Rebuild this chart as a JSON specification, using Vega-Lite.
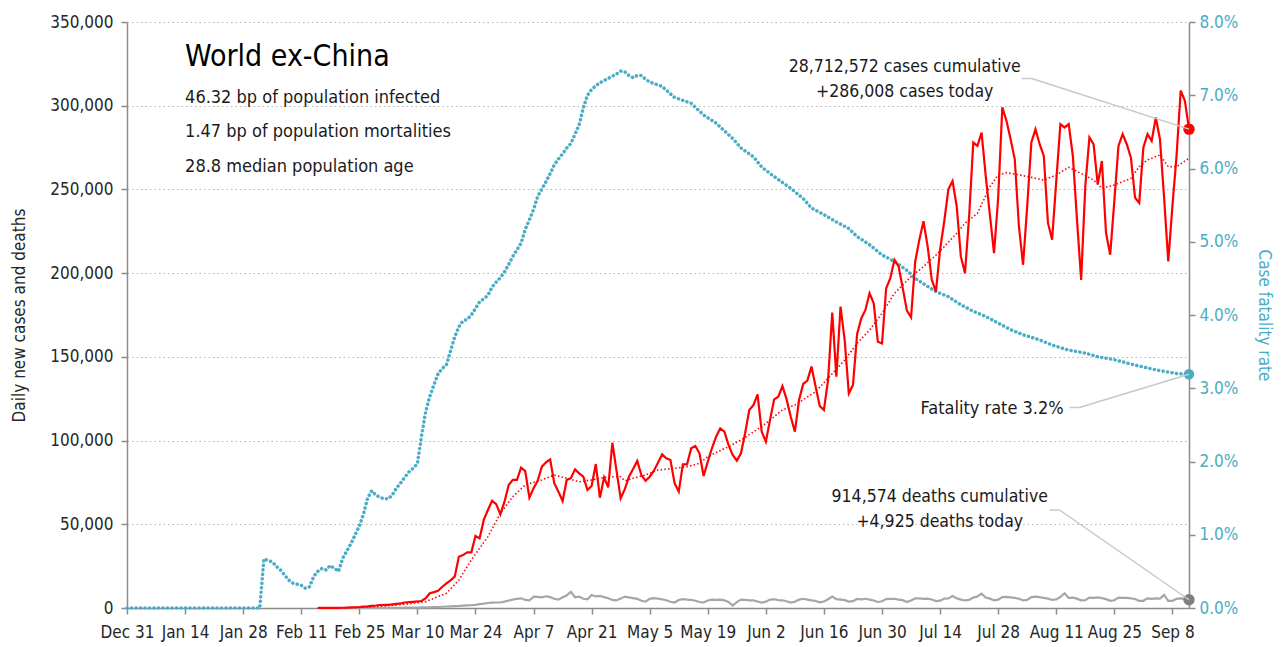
{
"$schema": "https://vega.github.io/schema/vega-lite/v6.json",
"width": 1062, "height": 586,
"autosize": {"type": "none"},
"padding": {"left": 127, "top": 22, "right": 94, "bottom": 39},
"background": "white",
"config": {
 "font": "DejaVu Sans Condensed, Liberation Sans, sans-serif",
 "view": {"stroke": null},
 "axis": {"labelFont": "DejaVu Sans Condensed, Liberation Sans, sans-serif", "titleFont": "DejaVu Sans Condensed, Liberation Sans, sans-serif", "labelFontSize": 17, "titleFontSize": 17, "titleFontWeight": "normal", "labelColor": "#262626", "titleColor": "#262626", "domainColor": "#8c8c8c", "tickColor": "#8c8c8c", "domainWidth": 1.5, "tickWidth": 1.5},
 "text": {"font": "DejaVu Sans Condensed, Liberation Sans, sans-serif"}
},
"datasets": {
 "one": [{}],
 "daily": [
{"date":"2020-02-15","cases":50,"deaths":3},{"date":"2020-02-16","cases":50,"deaths":2},{"date":"2020-02-17","cases":60,"deaths":3},{"date":"2020-02-18","cases":70,"deaths":4},{"date":"2020-02-19","cases":80,"deaths":5},{"date":"2020-02-20","cases":100,"deaths":6},{"date":"2020-02-21","cases":150,"deaths":8},{"date":"2020-02-22","cases":250,"deaths":10},{"date":"2020-02-23","cases":350,"deaths":15},{"date":"2020-02-24","cases":450,"deaths":20},{"date":"2020-02-25","cases":600,"deaths":25},{"date":"2020-02-26","cases":850,"deaths":30},{"date":"2020-02-27","cases":1000,"deaths":40},{"date":"2020-02-28","cases":1300,"deaths":45},{"date":"2020-02-29","cases":1500,"deaths":50},
{"date":"2020-03-01","cases":1800,"deaths":60},{"date":"2020-03-02","cases":1900,"deaths":70},{"date":"2020-03-03","cases":1900,"deaths":80},{"date":"2020-03-04","cases":2200,"deaths":100},{"date":"2020-03-05","cases":2500,"deaths":120},{"date":"2020-03-06","cases":2800,"deaths":150},{"date":"2020-03-07","cases":3300,"deaths":180},{"date":"2020-03-08","cases":3500,"deaths":210},{"date":"2020-03-09","cases":3700,"deaths":240},{"date":"2020-03-10","cases":3900,"deaths":270},{"date":"2020-03-11","cases":4200,"deaths":330},{"date":"2020-03-12","cases":5800,"deaths":400},{"date":"2020-03-13","cases":8800,"deaths":450},{"date":"2020-03-14","cases":9500,"deaths":520},{"date":"2020-03-15","cases":10300,"deaths":600},{"date":"2020-03-16","cases":12700,"deaths":750},{"date":"2020-03-17","cases":14700,"deaths":900},{"date":"2020-03-18","cases":16500,"deaths":1000},{"date":"2020-03-19","cases":18700,"deaths":1100},{"date":"2020-03-20","cases":30600,"deaths":1200},{"date":"2020-03-21","cases":31600,"deaths":1400},{"date":"2020-03-22","cases":33200,"deaths":1600},{"date":"2020-03-23","cases":33200,"deaths":1700},{"date":"2020-03-24","cases":43000,"deaths":1900},{"date":"2020-03-25","cases":41600,"deaths":2300},{"date":"2020-03-26","cases":52600,"deaths":2600},{"date":"2020-03-27","cases":58500,"deaths":3000},{"date":"2020-03-28","cases":64000,"deaths":3200},{"date":"2020-03-29","cases":62000,"deaths":3300},{"date":"2020-03-30","cases":56000,"deaths":3300},{"date":"2020-03-31","cases":63500,"deaths":3800},
{"date":"2020-04-01","cases":73500,"deaths":4500},{"date":"2020-04-02","cases":76500,"deaths":5000},{"date":"2020-04-03","cases":76500,"deaths":5500},{"date":"2020-04-04","cases":83800,"deaths":5800},{"date":"2020-04-05","cases":81800,"deaths":4800},{"date":"2020-04-06","cases":65900,"deaths":4500},{"date":"2020-04-07","cases":71500,"deaths":6800},{"date":"2020-04-08","cases":76000,"deaths":6600},{"date":"2020-04-09","cases":84400,"deaths":6400},{"date":"2020-04-10","cases":87000,"deaths":7000},{"date":"2020-04-11","cases":88800,"deaths":6500},{"date":"2020-04-12","cases":74500,"deaths":5500},{"date":"2020-04-13","cases":69500,"deaths":5000},{"date":"2020-04-14","cases":63900,"deaths":6400},{"date":"2020-04-15","cases":76500,"deaths":7500},{"date":"2020-04-16","cases":77500,"deaths":9700},{"date":"2020-04-17","cases":82800,"deaths":6400},{"date":"2020-04-18","cases":80400,"deaths":6800},{"date":"2020-04-19","cases":78400,"deaths":5500},{"date":"2020-04-20","cases":70500,"deaths":5200},{"date":"2020-04-21","cases":72900,"deaths":7800},{"date":"2020-04-22","cases":86000,"deaths":6900},{"date":"2020-04-23","cases":65900,"deaths":7200},{"date":"2020-04-24","cases":78000,"deaths":6500},{"date":"2020-04-25","cases":72000,"deaths":5800},{"date":"2020-04-26","cases":98700,"deaths":4800},{"date":"2020-04-27","cases":82000,"deaths":4500},{"date":"2020-04-28","cases":65500,"deaths":5600},{"date":"2020-04-29","cases":71000,"deaths":6800},{"date":"2020-04-30","cases":78400,"deaths":6300},
{"date":"2020-05-01","cases":83000,"deaths":5900},{"date":"2020-05-02","cases":87800,"deaths":5500},{"date":"2020-05-03","cases":79400,"deaths":4300},{"date":"2020-05-04","cases":76000,"deaths":3800},{"date":"2020-05-05","cases":78400,"deaths":5500},{"date":"2020-05-06","cases":82000,"deaths":5900},{"date":"2020-05-07","cases":86800,"deaths":5600},{"date":"2020-05-08","cases":91800,"deaths":5200},{"date":"2020-05-09","cases":89400,"deaths":4600},{"date":"2020-05-10","cases":88400,"deaths":3700},{"date":"2020-05-11","cases":74500,"deaths":3300},{"date":"2020-05-12","cases":69500,"deaths":4800},{"date":"2020-05-13","cases":85800,"deaths":5300},{"date":"2020-05-14","cases":85800,"deaths":5000},{"date":"2020-05-15","cases":95400,"deaths":4900},{"date":"2020-05-16","cases":96800,"deaths":4300},{"date":"2020-05-17","cases":92400,"deaths":3600},{"date":"2020-05-18","cases":78800,"deaths":3300},{"date":"2020-05-19","cases":87400,"deaths":4500},{"date":"2020-05-20","cases":95400,"deaths":5000},{"date":"2020-05-21","cases":102300,"deaths":4800},{"date":"2020-05-22","cases":107300,"deaths":5000},{"date":"2020-05-23","cases":105300,"deaths":4600},{"date":"2020-05-24","cases":97400,"deaths":3600},{"date":"2020-05-25","cases":91400,"deaths":1500},{"date":"2020-05-26","cases":88000,"deaths":3500},{"date":"2020-05-27","cases":92400,"deaths":5000},{"date":"2020-05-28","cases":104400,"deaths":4800},{"date":"2020-05-29","cases":118300,"deaths":4600},{"date":"2020-05-30","cases":121200,"deaths":4500},{"date":"2020-05-31","cases":127600,"deaths":3900},
{"date":"2020-06-01","cases":105300,"deaths":3200},{"date":"2020-06-02","cases":99300,"deaths":3800},{"date":"2020-06-03","cases":112300,"deaths":5000},{"date":"2020-06-04","cases":124600,"deaths":5200},{"date":"2020-06-05","cases":126200,"deaths":4700},{"date":"2020-06-06","cases":132600,"deaths":4600},{"date":"2020-06-07","cases":124600,"deaths":4000},{"date":"2020-06-08","cases":114200,"deaths":3200},{"date":"2020-06-09","cases":105300,"deaths":3700},{"date":"2020-06-10","cases":124200,"deaths":5000},{"date":"2020-06-11","cases":133800,"deaths":5500},{"date":"2020-06-12","cases":135800,"deaths":5000},{"date":"2020-06-13","cases":144200,"deaths":4600},{"date":"2020-06-14","cases":132200,"deaths":4200},{"date":"2020-06-15","cases":120600,"deaths":3400},{"date":"2020-06-16","cases":118300,"deaths":3900},{"date":"2020-06-17","cases":136200,"deaths":5200},{"date":"2020-06-18","cases":176400,"deaths":6800},{"date":"2020-06-19","cases":138200,"deaths":5300},{"date":"2020-06-20","cases":180000,"deaths":5000},{"date":"2020-06-21","cases":160000,"deaths":4700},{"date":"2020-06-22","cases":128200,"deaths":3800},{"date":"2020-06-23","cases":133200,"deaths":4100},{"date":"2020-06-24","cases":163700,"deaths":5400},{"date":"2020-06-25","cases":173000,"deaths":5200},{"date":"2020-06-26","cases":178000,"deaths":5500},{"date":"2020-06-27","cases":188000,"deaths":5000},{"date":"2020-06-28","cases":182000,"deaths":4500},{"date":"2020-06-29","cases":159000,"deaths":3600},{"date":"2020-06-30","cases":158000,"deaths":4000},
{"date":"2020-07-01","cases":191000,"deaths":5300},{"date":"2020-07-02","cases":197000,"deaths":5500},{"date":"2020-07-03","cases":208000,"deaths":5500},{"date":"2020-07-04","cases":204000,"deaths":5000},{"date":"2020-07-05","cases":191000,"deaths":4700},{"date":"2020-07-06","cases":177600,"deaths":3600},{"date":"2020-07-07","cases":173600,"deaths":4500},{"date":"2020-07-08","cases":206800,"deaths":5800},{"date":"2020-07-09","cases":220000,"deaths":5700},{"date":"2020-07-10","cases":231000,"deaths":5400},{"date":"2020-07-11","cases":216000,"deaths":5600},{"date":"2020-07-12","cases":196000,"deaths":5100},{"date":"2020-07-13","cases":189000,"deaths":4100},{"date":"2020-07-14","cases":214000,"deaths":4400},{"date":"2020-07-15","cases":231000,"deaths":5600},{"date":"2020-07-16","cases":250000,"deaths":5700},{"date":"2020-07-17","cases":255000,"deaths":7200},{"date":"2020-07-18","cases":240000,"deaths":5800},{"date":"2020-07-19","cases":210000,"deaths":5000},{"date":"2020-07-20","cases":200000,"deaths":4500},{"date":"2020-07-21","cases":234000,"deaths":4800},{"date":"2020-07-22","cases":278000,"deaths":6200},{"date":"2020-07-23","cases":276000,"deaths":6900},{"date":"2020-07-24","cases":284000,"deaths":8600},{"date":"2020-07-25","cases":258000,"deaths":6300},{"date":"2020-07-26","cases":235000,"deaths":5600},{"date":"2020-07-27","cases":212000,"deaths":4600},{"date":"2020-07-28","cases":245000,"deaths":5000},{"date":"2020-07-29","cases":299000,"deaths":6500},{"date":"2020-07-30","cases":291000,"deaths":6600},{"date":"2020-07-31","cases":280000,"deaths":6300},
{"date":"2020-08-01","cases":268000,"deaths":6000},{"date":"2020-08-02","cases":228000,"deaths":5500},{"date":"2020-08-03","cases":205000,"deaths":4600},{"date":"2020-08-04","cases":240000,"deaths":4800},{"date":"2020-08-05","cases":278000,"deaths":6500},{"date":"2020-08-06","cases":286000,"deaths":6800},{"date":"2020-08-07","cases":277000,"deaths":6500},{"date":"2020-08-08","cases":270000,"deaths":6000},{"date":"2020-08-09","cases":230000,"deaths":5600},{"date":"2020-08-10","cases":220000,"deaths":4800},{"date":"2020-08-11","cases":255000,"deaths":5100},{"date":"2020-08-12","cases":289000,"deaths":6600},{"date":"2020-08-13","cases":287000,"deaths":8800},{"date":"2020-08-14","cases":289000,"deaths":6000},{"date":"2020-08-15","cases":270000,"deaths":6200},{"date":"2020-08-16","cases":232000,"deaths":5600},{"date":"2020-08-17","cases":196000,"deaths":4500},{"date":"2020-08-18","cases":252000,"deaths":4700},{"date":"2020-08-19","cases":281000,"deaths":6200},{"date":"2020-08-20","cases":277000,"deaths":6000},{"date":"2020-08-21","cases":253000,"deaths":6300},{"date":"2020-08-22","cases":267000,"deaths":5900},{"date":"2020-08-23","cases":224000,"deaths":5300},{"date":"2020-08-24","cases":211000,"deaths":4300},{"date":"2020-08-25","cases":243000,"deaths":4600},{"date":"2020-08-26","cases":276000,"deaths":6200},{"date":"2020-08-27","cases":283000,"deaths":6000},{"date":"2020-08-28","cases":277000,"deaths":6000},{"date":"2020-08-29","cases":269000,"deaths":5800},{"date":"2020-08-30","cases":245000,"deaths":5400},{"date":"2020-08-31","cases":242000,"deaths":4200},
{"date":"2020-09-01","cases":275000,"deaths":4300},{"date":"2020-09-02","cases":283000,"deaths":5800},{"date":"2020-09-03","cases":279000,"deaths":5500},{"date":"2020-09-04","cases":293000,"deaths":5700},{"date":"2020-09-05","cases":280000,"deaths":5600},{"date":"2020-09-06","cases":245000,"deaths":7800},{"date":"2020-09-07","cases":207000,"deaths":4200},{"date":"2020-09-08","cases":240000,"deaths":4300},{"date":"2020-09-09","cases":270000,"deaths":5500},{"date":"2020-09-10","cases":309000,"deaths":5800},{"date":"2020-09-11","cases":303000,"deaths":5500},{"date":"2020-09-12","cases":286008,"deaths":4925}
 ],
 "avg": [
{"date":"2020-02-15","avg":50},{"date":"2020-02-24","avg":200},{"date":"2020-02-29","avg":800},{"date":"2020-03-06","avg":2000},{"date":"2020-03-09","avg":2800},{"date":"2020-03-12","avg":3800},{"date":"2020-03-17","avg":8800},{"date":"2020-03-20","avg":16700},{"date":"2020-03-23","avg":28700},{"date":"2020-03-27","avg":42600},{"date":"2020-03-30","avg":56500},{"date":"2020-04-02","avg":66500},{"date":"2020-04-05","avg":73500},{"date":"2020-04-09","avg":76500},{"date":"2020-04-12","avg":79400},{"date":"2020-04-15","avg":77500},{"date":"2020-04-18","avg":75400},{"date":"2020-04-21","avg":76500},{"date":"2020-04-25","avg":78400},{"date":"2020-04-28","avg":78400},{"date":"2020-04-29","avg":76000},{"date":"2020-05-01","avg":77500},{"date":"2020-05-04","avg":79400},{"date":"2020-05-07","avg":82400},{"date":"2020-05-11","avg":83400},{"date":"2020-05-14","avg":84400},{"date":"2020-05-17","avg":86400},{"date":"2020-05-19","avg":90400},{"date":"2020-05-24","avg":96400},{"date":"2020-05-27","avg":100400},{"date":"2020-06-01","avg":108300},{"date":"2020-06-06","avg":118300},{"date":"2020-06-09","avg":121200},{"date":"2020-06-14","avg":129200},{"date":"2020-06-17","avg":137200},{"date":"2020-06-21","avg":148100},{"date":"2020-06-24","avg":158100},{"date":"2020-06-27","avg":166000},{"date":"2020-06-30","avg":176000},{"date":"2020-07-03","avg":188000},{"date":"2020-07-07","avg":197900},{"date":"2020-07-10","avg":203900},{"date":"2020-07-13","avg":210800},{"date":"2020-07-15","avg":215800},{"date":"2020-07-18","avg":223800},{"date":"2020-07-20","avg":229800},{"date":"2020-07-23","avg":235700},{"date":"2020-07-26","avg":251600},{"date":"2020-07-28","avg":258600},{"date":"2020-07-30","avg":260000},{"date":"2020-08-01","avg":259200},{"date":"2020-08-05","avg":257200},{"date":"2020-08-08","avg":255600},{"date":"2020-08-11","avg":258600},{"date":"2020-08-14","avg":263200},{"date":"2020-08-17","avg":259600},{"date":"2020-08-20","avg":255600},{"date":"2020-08-22","avg":250700},{"date":"2020-08-25","avg":252600},{"date":"2020-08-29","avg":256600},{"date":"2020-08-31","avg":263600},{"date":"2020-09-02","avg":267600},{"date":"2020-09-05","avg":270600},{"date":"2020-09-07","avg":263600},{"date":"2020-09-09","avg":263600},{"date":"2020-09-12","avg":268600}
 ],
 "cfr": [
{"date":"2019-12-31","cfr":0},{"date":"2020-02-01","cfr":0},{"date":"2020-02-02","cfr":0.0067},{"date":"2020-02-04","cfr":0.0063},{"date":"2020-02-05","cfr":0.0057},{"date":"2020-02-06","cfr":0.0052},{"date":"2020-02-07","cfr":0.0045},{"date":"2020-02-08","cfr":0.0038},{"date":"2020-02-09","cfr":0.0034},{"date":"2020-02-11","cfr":0.0031},{"date":"2020-02-12","cfr":0.0027},{"date":"2020-02-13","cfr":0.0029},{"date":"2020-02-14","cfr":0.0043},{"date":"2020-02-15","cfr":0.005},{"date":"2020-02-16","cfr":0.0054},{"date":"2020-02-17","cfr":0.0052},{"date":"2020-02-18","cfr":0.0058},{"date":"2020-02-19","cfr":0.0054},{"date":"2020-02-20","cfr":0.005},{"date":"2020-02-21","cfr":0.0068},{"date":"2020-02-22","cfr":0.0078},{"date":"2020-02-23","cfr":0.0088},{"date":"2020-02-24","cfr":0.01},{"date":"2020-02-25","cfr":0.0112},{"date":"2020-02-26","cfr":0.0128},{"date":"2020-02-27","cfr":0.015},{"date":"2020-02-28","cfr":0.016},{"date":"2020-02-29","cfr":0.0154},
{"date":"2020-03-01","cfr":0.0151},{"date":"2020-03-02","cfr":0.0149},{"date":"2020-03-03","cfr":0.0149},{"date":"2020-03-04","cfr":0.0155},{"date":"2020-03-05","cfr":0.0164},{"date":"2020-03-06","cfr":0.0171},{"date":"2020-03-07","cfr":0.0179},{"date":"2020-03-08","cfr":0.0186},{"date":"2020-03-09","cfr":0.0191},{"date":"2020-03-10","cfr":0.0197},{"date":"2020-03-11","cfr":0.0235},{"date":"2020-03-12","cfr":0.0268},{"date":"2020-03-13","cfr":0.0289},{"date":"2020-03-14","cfr":0.0305},{"date":"2020-03-15","cfr":0.032},{"date":"2020-03-16","cfr":0.0327},{"date":"2020-03-17","cfr":0.0332},{"date":"2020-03-18","cfr":0.0351},{"date":"2020-03-19","cfr":0.037},{"date":"2020-03-20","cfr":0.0384},{"date":"2020-03-21","cfr":0.0392},{"date":"2020-03-22","cfr":0.0394},{"date":"2020-03-23","cfr":0.04},{"date":"2020-03-24","cfr":0.0409},{"date":"2020-03-25","cfr":0.0418},{"date":"2020-03-26","cfr":0.0422},{"date":"2020-03-27","cfr":0.0427},{"date":"2020-03-28","cfr":0.0438},{"date":"2020-03-29","cfr":0.0445},{"date":"2020-03-30","cfr":0.0451},{"date":"2020-03-31","cfr":0.0459},
{"date":"2020-04-01","cfr":0.0469},{"date":"2020-04-02","cfr":0.048},{"date":"2020-04-03","cfr":0.0489},{"date":"2020-04-04","cfr":0.0498},{"date":"2020-04-05","cfr":0.0517},{"date":"2020-04-06","cfr":0.053},{"date":"2020-04-07","cfr":0.0544},{"date":"2020-04-08","cfr":0.0562},{"date":"2020-04-09","cfr":0.0572},{"date":"2020-04-10","cfr":0.0582},{"date":"2020-04-11","cfr":0.0593},{"date":"2020-04-12","cfr":0.0605},{"date":"2020-04-13","cfr":0.0613},{"date":"2020-04-14","cfr":0.062},{"date":"2020-04-15","cfr":0.0628},{"date":"2020-04-16","cfr":0.0634},{"date":"2020-04-17","cfr":0.0647},{"date":"2020-04-18","cfr":0.066},{"date":"2020-04-19","cfr":0.0683},{"date":"2020-04-20","cfr":0.07},{"date":"2020-04-21","cfr":0.0708},{"date":"2020-04-22","cfr":0.0713},{"date":"2020-04-23","cfr":0.0717},{"date":"2020-04-24","cfr":0.072},{"date":"2020-04-25","cfr":0.0723},{"date":"2020-04-26","cfr":0.0726},{"date":"2020-04-27","cfr":0.0729},{"date":"2020-04-28","cfr":0.0733},{"date":"2020-04-29","cfr":0.0732},{"date":"2020-04-30","cfr":0.0727},
{"date":"2020-05-01","cfr":0.0724},{"date":"2020-05-02","cfr":0.0727},{"date":"2020-05-03","cfr":0.0727},{"date":"2020-05-04","cfr":0.0722},{"date":"2020-05-05","cfr":0.0718},{"date":"2020-05-08","cfr":0.0712},{"date":"2020-05-11","cfr":0.0697},{"date":"2020-05-15","cfr":0.0689},{"date":"2020-05-18","cfr":0.0673},{"date":"2020-05-21","cfr":0.0662},{"date":"2020-05-25","cfr":0.0641},{"date":"2020-05-27","cfr":0.0628},{"date":"2020-05-30","cfr":0.0616},{"date":"2020-06-01","cfr":0.0602},{"date":"2020-06-04","cfr":0.0589},{"date":"2020-06-08","cfr":0.0573},{"date":"2020-06-11","cfr":0.0559},{"date":"2020-06-13","cfr":0.0546},{"date":"2020-06-16","cfr":0.0537},{"date":"2020-06-19","cfr":0.0527},{"date":"2020-06-22","cfr":0.0518},{"date":"2020-06-24","cfr":0.0507},{"date":"2020-06-27","cfr":0.0496},{"date":"2020-06-30","cfr":0.0482},{"date":"2020-07-03","cfr":0.0473},{"date":"2020-07-06","cfr":0.0461},{"date":"2020-07-08","cfr":0.045},{"date":"2020-07-11","cfr":0.0439},{"date":"2020-07-13","cfr":0.0432},{"date":"2020-07-16","cfr":0.0425},{"date":"2020-07-19","cfr":0.0414},{"date":"2020-07-22","cfr":0.0405},{"date":"2020-07-25","cfr":0.0398},{"date":"2020-07-28","cfr":0.0389},{"date":"2020-07-31","cfr":0.038},{"date":"2020-08-03","cfr":0.0373},{"date":"2020-08-07","cfr":0.0366},{"date":"2020-08-10","cfr":0.0359},{"date":"2020-08-14","cfr":0.0352},{"date":"2020-08-18","cfr":0.0348},{"date":"2020-08-21","cfr":0.0343},{"date":"2020-08-25","cfr":0.0339},{"date":"2020-08-29","cfr":0.0333},{"date":"2020-09-01","cfr":0.0329},{"date":"2020-09-05","cfr":0.0324},{"date":"2020-09-09","cfr":0.032},{"date":"2020-09-12","cfr":0.0319}
 ]
},
"layer": [
 {
  "layer": [
   {
    "data": {"name": "cfr"},
    "mark": {"type": "line", "color": "#4BACC6", "strokeWidth": 3.5, "strokeDash": [0.1, 4.4], "strokeCap": "round"},
    "encoding": {
     "x": {"field": "date", "type": "temporal",
      "scale": {"type": "utc", "domain": [{"year":2019,"month":12,"date":31,"utc":true},{"year":2020,"month":9,"date":12,"utc":true}]},
      "axis": {"orient": "bottom", "title": null, "grid": false, "format": "%b %-d", "tickSize": 6, "labelPadding": 10, "labelFlush": false, "labelOverlap": false,
       "values": [{"year":2019,"month":12,"date":31,"utc":true},{"year":2020,"month":1,"date":14,"utc":true},{"year":2020,"month":1,"date":28,"utc":true},{"year":2020,"month":2,"date":11,"utc":true},{"year":2020,"month":2,"date":25,"utc":true},{"year":2020,"month":3,"date":10,"utc":true},{"year":2020,"month":3,"date":24,"utc":true},{"year":2020,"month":4,"date":7,"utc":true},{"year":2020,"month":4,"date":21,"utc":true},{"year":2020,"month":5,"date":5,"utc":true},{"year":2020,"month":5,"date":19,"utc":true},{"year":2020,"month":6,"date":2,"utc":true},{"year":2020,"month":6,"date":16,"utc":true},{"year":2020,"month":6,"date":30,"utc":true},{"year":2020,"month":7,"date":14,"utc":true},{"year":2020,"month":7,"date":28,"utc":true},{"year":2020,"month":8,"date":11,"utc":true},{"year":2020,"month":8,"date":25,"utc":true},{"year":2020,"month":9,"date":8,"utc":true}]}},
     "y": {"field": "cfr", "type": "quantitative",
      "scale": {"domain": [0, 0.08], "nice": false},
      "axis": {"orient": "right", "title": "Case fatality rate", "titleColor": "#4BACC6", "labelColor": "#4BACC6", "format": ".1%", "values": [0,0.01,0.02,0.03,0.04,0.05,0.06,0.07,0.08], "grid": false, "tickSize": 6, "labelPadding": 4, "titlePadding": 17}}
    }
   },
   {
    "data": {"name": "cfr"},
    "transform": [{"window": [{"op": "row_number", "as": "r"}], "sort": [{"field": "date", "order": "descending"}]}, {"filter": "datum.r == 1"}],
    "mark": {"type": "point", "filled": true, "size": 110, "color": "#4BACC6", "opacity": 1},
    "encoding": {
     "x": {"field": "date", "type": "temporal"},
     "y": {"field": "cfr", "type": "quantitative"}
    }
   },
   {
    "data": {"name": "one"},
    "mark": {"type": "rule", "color": "#c8c8c8", "strokeWidth": 1.5},
    "encoding": {
     "x": {"datum": {"year":2020,"month":8,"date":14,"hours":5,"utc":true}, "type": "temporal"},
     "x2": {"datum": {"year":2020,"month":8,"date":16,"hours":14,"utc":true}},
     "y": {"datum": 0.02737, "type": "quantitative"},
     "y2": {"datum": 0.02737}
    }
   },
   {
    "data": {"name": "one"},
    "mark": {"type": "rule", "color": "#c8c8c8", "strokeWidth": 1.5},
    "encoding": {
     "x": {"datum": {"year":2020,"month":8,"date":16,"hours":14,"utc":true}, "type": "temporal"},
     "x2": {"datum": {"year":2020,"month":9,"date":12,"utc":true}},
     "y": {"datum": 0.02737, "type": "quantitative"},
     "y2": {"datum": 0.0319}
    }
   },
   {
    "data": {"name": "one"},
    "mark": {"type": "text", "align": "right", "baseline": "middle", "fontSize": 18, "color": "#1a1a1a", "text": "Fatality rate 3.2%"},
    "encoding": {
     "x": {"datum": {"year":2020,"month":8,"date":12,"hours":19,"utc":true}, "type": "temporal"},
     "y": {"datum": 0.02717, "type": "quantitative"}
    }
   }
  ]
 },
 {
  "layer": [
   {
    "data": {"name": "daily"},
    "mark": {"type": "line", "color": "#A6A6A6", "strokeWidth": 2.2},
    "encoding": {
     "x": {"field": "date", "type": "temporal"},
     "y": {"field": "deaths", "type": "quantitative",
      "scale": {"domain": [0, 350000], "nice": false},
      "axis": {"orient": "left", "title": "Daily new cases and deaths", "format": ",d", "values": [0,50000,100000,150000,200000,250000,300000,350000], "grid": true, "gridDash": [1.5, 3], "gridColor": "#b5b5b5", "gridWidth": 1, "tickSize": 6, "labelPadding": 8, "titlePadding": 21}}
    }
   },
   {
    "data": {"name": "avg"},
    "mark": {"type": "line", "color": "#FF0000", "strokeWidth": 1.6, "strokeDash": [1.5, 2.2]},
    "encoding": {
     "x": {"field": "date", "type": "temporal"},
     "y": {"field": "avg", "type": "quantitative"}
    }
   },
   {
    "data": {"name": "daily"},
    "mark": {"type": "line", "color": "#FF0000", "strokeWidth": 2.2},
    "encoding": {
     "x": {"field": "date", "type": "temporal"},
     "y": {"field": "cases", "type": "quantitative"}
    }
   },
   {
    "data": {"name": "daily"},
    "transform": [{"window": [{"op": "row_number", "as": "r"}], "sort": [{"field": "date", "order": "descending"}]}, {"filter": "datum.r == 1"}],
    "mark": {"type": "point", "filled": true, "size": 130, "color": "#FF0000", "opacity": 1},
    "encoding": {
     "x": {"field": "date", "type": "temporal"},
     "y": {"field": "cases", "type": "quantitative"}
    }
   },
   {
    "data": {"name": "daily"},
    "transform": [{"window": [{"op": "row_number", "as": "r"}], "sort": [{"field": "date", "order": "descending"}]}, {"filter": "datum.r == 1"}],
    "mark": {"type": "point", "filled": true, "size": 130, "color": "#7F7F7F", "opacity": 1},
    "encoding": {
     "x": {"field": "date", "type": "temporal"},
     "y": {"field": "deaths", "type": "quantitative"}
    }
   },
   {
    "data": {"name": "one"},
    "mark": {"type": "rule", "color": "#c8c8c8", "strokeWidth": 1.5},
    "encoding": {
     "x": {"datum": {"year":2020,"month":8,"date":2,"hours":16,"utc":true}, "type": "temporal"},
     "x2": {"datum": {"year":2020,"month":8,"date":5,"hours":2,"utc":true}},
     "y": {"datum": 316250, "type": "quantitative"},
     "y2": {"datum": 316250}
    }
   },
   {
    "data": {"name": "one"},
    "mark": {"type": "rule", "color": "#c8c8c8", "strokeWidth": 1.5},
    "encoding": {
     "x": {"datum": {"year":2020,"month":8,"date":5,"hours":2,"utc":true}, "type": "temporal"},
     "x2": {"datum": {"year":2020,"month":9,"date":12,"utc":true}},
     "y": {"datum": 316250, "type": "quantitative"},
     "y2": {"datum": 286008}
    }
   },
   {
    "data": {"name": "one"},
    "mark": {"type": "rule", "color": "#c8c8c8", "strokeWidth": 1.5},
    "encoding": {
     "x": {"datum": {"year":2020,"month":8,"date":9,"hours":10,"utc":true}, "type": "temporal"},
     "x2": {"datum": {"year":2020,"month":8,"date":11,"hours":19,"utc":true}},
     "y": {"datum": 58530, "type": "quantitative"},
     "y2": {"datum": 58530}
    }
   },
   {
    "data": {"name": "one"},
    "mark": {"type": "rule", "color": "#c8c8c8", "strokeWidth": 1.5},
    "encoding": {
     "x": {"datum": {"year":2020,"month":8,"date":11,"hours":19,"utc":true}, "type": "temporal"},
     "x2": {"datum": {"year":2020,"month":9,"date":12,"utc":true}},
     "y": {"datum": 58530, "type": "quantitative"},
     "y2": {"datum": 4925}
    }
   },
   {
    "data": {"name": "one"},
    "mark": {"type": "text", "align": "left", "baseline": "middle", "fontSize": 30, "color": "#000000", "text": "World ex-China"},
    "encoding": {
     "x": {"datum": {"year":2020,"month":1,"date":14,"utc":true}, "type": "temporal"},
     "y": {"datum": 329000, "type": "quantitative"}
    }
   },
   {
    "data": {"name": "one"},
    "mark": {"type": "text", "align": "left", "baseline": "middle", "fontSize": 18, "color": "#1a1a1a", "text": "46.32 bp of population infected"},
    "encoding": {
     "x": {"datum": {"year":2020,"month":1,"date":14,"utc":true}, "type": "temporal"},
     "y": {"datum": 304600, "type": "quantitative"}
    }
   },
   {
    "data": {"name": "one"},
    "mark": {"type": "text", "align": "left", "baseline": "middle", "fontSize": 18, "color": "#1a1a1a", "text": "1.47 bp of population mortalities"},
    "encoding": {
     "x": {"datum": {"year":2020,"month":1,"date":14,"utc":true}, "type": "temporal"},
     "y": {"datum": 284300, "type": "quantitative"}
    }
   },
   {
    "data": {"name": "one"},
    "mark": {"type": "text", "align": "left", "baseline": "middle", "fontSize": 18, "color": "#1a1a1a", "text": "28.8 median population age"},
    "encoding": {
     "x": {"datum": {"year":2020,"month":1,"date":14,"utc":true}, "type": "temporal"},
     "y": {"datum": 263400, "type": "quantitative"}
    }
   },
   {
    "data": {"name": "one"},
    "mark": {"type": "text", "align": "center", "baseline": "middle", "fontSize": 17.5, "color": "#1a1a1a", "text": "28,712,572 cases cumulative"},
    "encoding": {
     "x": {"datum": {"year":2020,"month":7,"date":5,"hours":11,"utc":true}, "type": "temporal"},
     "y": {"datum": 323100, "type": "quantitative"}
    }
   },
   {
    "data": {"name": "one"},
    "mark": {"type": "text", "align": "center", "baseline": "middle", "fontSize": 17.5, "color": "#1a1a1a", "text": "+286,008 cases today"},
    "encoding": {
     "x": {"datum": {"year":2020,"month":7,"date":5,"hours":11,"utc":true}, "type": "temporal"},
     "y": {"datum": 308200, "type": "quantitative"}
    }
   },
   {
    "data": {"name": "one"},
    "mark": {"type": "text", "align": "center", "baseline": "middle", "fontSize": 17.5, "color": "#1a1a1a", "text": "914,574 deaths cumulative"},
    "encoding": {
     "x": {"datum": {"year":2020,"month":7,"date":13,"hours":22,"utc":true}, "type": "temporal"},
     "y": {"datum": 66300, "type": "quantitative"}
    }
   },
   {
    "data": {"name": "one"},
    "mark": {"type": "text", "align": "center", "baseline": "middle", "fontSize": 17.5, "color": "#1a1a1a", "text": "+4,925 deaths today"},
    "encoding": {
     "x": {"datum": {"year":2020,"month":7,"date":13,"hours":22,"utc":true}, "type": "temporal"},
     "y": {"datum": 51370, "type": "quantitative"}
    }
   }
  ]
 }
],
"resolve": {"scale": {"y": "independent"}}
}
